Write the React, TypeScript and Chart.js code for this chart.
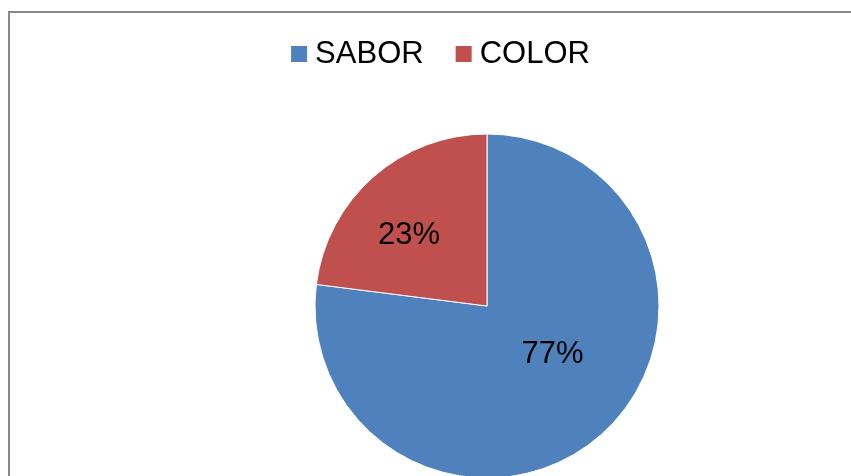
import React, { useEffect, useRef } from "react";
import { Chart, registerables } from "chart.js";

Chart.register(...registerables);

const categories = ["SABOR", "COLOR"];
const values = [77, 23];
const percentLabels = ["77%", "23%"];
const sliceColors = ["#4F81BD", "#C0504D"];

const FONT = "Arial, 'Liberation Sans', Helvetica, sans-serif";

const chartFrame = {
  id: "chartFrame",
  beforeDraw(chart: any, _args: any, opts: any) {
    const ctx = chart.ctx;
    ctx.save();
    ctx.fillStyle = "#ffffff";
    ctx.fillRect(0, 0, chart.width, chart.height);
    ctx.fillStyle = opts.color;
    // top and left edges of the chart frame (right/bottom edges lie outside the view)
    ctx.fillRect(opts.left, opts.top, chart.width - opts.left, opts.width);
    ctx.fillRect(opts.left, opts.top, opts.width, chart.height - opts.top);
    ctx.restore();
  },
};

const excelLegend = {
  id: "excelLegend",
  afterDraw(chart: any, _args: any, opts: any) {
    const ctx = chart.ctx;
    const labels: string[] = chart.data.labels;
    const bg: string[] = chart.data.datasets[0].backgroundColor;
    ctx.save();
    ctx.font = `${opts.fontSize}px ${FONT}`;
    ctx.textAlign = "left";
    ctx.textBaseline = "alphabetic";
    const widths = labels.map((l) => ctx.measureText(l).width);
    const total =
      widths.reduce((s, w) => s + opts.box + opts.gap + w, 0) +
      opts.itemGap * (labels.length - 1);
    let x = opts.centerX - total / 2;
    labels.forEach((l, i) => {
      ctx.fillStyle = bg[i];
      ctx.fillRect(x, opts.boxTop, opts.box, opts.box);
      x += opts.box + opts.gap;
      ctx.fillStyle = "#000";
      ctx.fillText(l, x, opts.baseline);
      x += widths[i] + opts.itemGap;
    });
    ctx.restore();
  },
};

const sliceLabels = {
  id: "sliceLabels",
  afterDatasetsDraw(chart: any, _args: any, opts: any) {
    const ctx = chart.ctx;
    const meta = chart.getDatasetMeta(0);
    ctx.save();
    ctx.font = `${opts.fontSize}px ${FONT}`;
    ctx.fillStyle = "#000";
    ctx.textAlign = "center";
    ctx.textBaseline = "alphabetic";
    meta.data.forEach((arc: any, i: number) => {
      const p = arc.getProps(["x", "y", "startAngle", "endAngle", "outerRadius"], true);
      const mid = (p.startAngle + p.endAngle) / 2 + (opts.angleShift[i] * Math.PI) / 180;
      const r = p.outerRadius * opts.radiusFrac[i];
      const cx = p.x + Math.cos(mid) * r;
      const cy = p.y + Math.sin(mid) * r;
      ctx.fillText(percentLabels[i], cx, cy + opts.fontSize * 0.358);
    });
    ctx.restore();
  },
};

export default function App() {
  const ref = useRef<HTMLCanvasElement | null>(null);

  useEffect(() => {
    document.documentElement.style.overflow = "hidden";
    document.body.style.margin = "0";
    const canvas = ref.current!;
    const chart = new Chart(canvas, {
      type: "pie",
      data: {
        labels: categories,
        datasets: [
          {
            data: values,
            backgroundColor: sliceColors,
            borderColor: "#ffffff",
            borderWidth: 1,
            radius: 172,
          } as any,
        ],
      },
      options: {
        responsive: false,
        animation: false,
        events: [],
        layout: { padding: { left: 123, right: 0, top: 136, bottom: 0 } },
        plugins: {
          legend: { display: false },
          tooltip: { enabled: false },
          chartFrame: { color: "#888888", left: 8, top: 11, width: 2 },
          excelLegend: {
            fontSize: 31,
            box: 16,
            gap: 8,
            itemGap: 32,
            centerX: 440.5,
            boxTop: 46,
            baseline: 63.3,
          },
          sliceLabels: {
            fontSize: 31,
            radiusFrac: [0.464, 0.62],
            angleShift: [-13.7, -5.6],
          },
        } as any,
      },
      plugins: [chartFrame, excelLegend, sliceLabels],
    });
    return () => chart.destroy();
  }, []);

  return (
    <div style={{ position: "relative", width: 851, height: 476, overflow: "hidden" }}>
      <canvas
        ref={ref}
        width={851}
        height={476}
        style={{ position: "absolute", left: 0, top: 0, width: 851, height: 476, display: "block" }}
      />
    </div>
  );
}
